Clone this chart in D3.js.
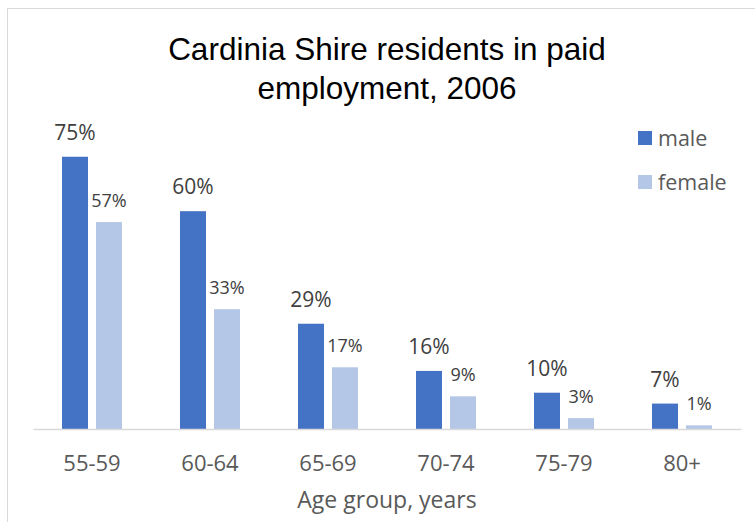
<!DOCTYPE html>
<html>
<head>
<meta charset="utf-8">
<script src="https://cdn.jsdelivr.net/npm/d3@7"></script>
<style>
  body { margin: 0; background: #fff; }
  text { font-family: "Open Sans", sans-serif; }
</style>
</head>
<body>
<div class="chart"></div>
<script>
const ageGroups = ["55-59", "60-64", "65-69", "70-74", "75-79", "80+"];
const male = [75, 60, 29, 16, 10, 7];
const female = [57, 33, 17, 9, 3, 1];
const seriesNames = ["male", "female"];
const seriesColors = ["#4472C4", "#B4C7E7"];

const width = 755, height = 522;
const baseY = 429;

const svg = d3.select(".chart")
              .append("svg")
              .attr("width", width)
              .attr("height", height);

// chart frame
svg.append("rect")
   .attr("x", 7.5).attr("y", 8.5)
   .attr("width", 800).attr("height", 600)
   .attr("fill", "#fff")
   .attr("stroke", "#d9d9d9");

const x = d3.scaleBand()
            .domain(ageGroups)
            .range([33, 741]);

const xInner = d3.scaleBand()
                 .domain(seriesNames)
                 .range([29, 89])
                 .paddingInner(8 / 34);

const y = d3.scaleLinear()
            .domain([0, 100])
            .range([baseY, 66]);

const color = d3.scaleOrdinal().domain(seriesNames).range(seriesColors);

const rows = ageGroups.map((g, i) => ({group: g, male: male[i], female: female[i]}));

const groups = svg.selectAll(".grp")
                  .data(rows)
                  .enter()
                  .append("g")
                  .attr("class", "grp")
                  .attr("transform", d => `translate(${x(d.group)},0)`);

groups.selectAll("rect")
      .data(d => seriesNames.map(s => ({key: s, value: d[s]})))
      .enter()
      .append("rect")
      .attr("x", d => xInner(d.key))
      .attr("width", xInner.bandwidth())
      .attr("y", d => y(d.value))
      .attr("height", d => baseY - y(d.value))
      .attr("fill", d => color(d.key));

groups.selectAll(".lbl")
      .data(d => seriesNames.map(s => ({key: s, value: d[s]})))
      .enter()
      .append("text")
      .attr("class", "lbl")
      .attr("x", d => xInner(d.key) + xInner.bandwidth() / 2)
      .attr("y", d => y(d.value) - (d.key === "male" ? 17 : 15))
      .attr("text-anchor", "middle")
      .attr("font-size", d => d.key === "male" ? 21 : 18)
      .attr("fill", "#404040")
      .text(d => d.value + "%");

// x axis
const xAxis = d3.axisBottom(x).tickSize(0).tickPadding(26);
const gx = svg.append("g")
              .attr("transform", `translate(0,${baseY})`)
              .call(xAxis);
gx.select(".domain").attr("stroke", "#d9d9d9").attr("stroke-width", 1.5);
gx.selectAll("text")
  .attr("font-family", "Open Sans, sans-serif")
  .attr("font-size", 22)
  .attr("fill", "#595959");

svg.append("text")
   .attr("x", 387)
   .attr("y", 508)
   .attr("text-anchor", "middle")
   .attr("font-size", 23)
   .attr("fill", "#595959")
   .text("Age group, years");

// title
const title = svg.append("text")
                 .attr("text-anchor", "middle")
                 .attr("font-size", 31.5)
                 .attr("fill", "#000")
                 .style("font-family", "'Liberation Sans', Arial, sans-serif");
title.append("tspan").attr("x", 387).attr("y", 60).text("Cardinia Shire residents in paid");
title.append("tspan").attr("x", 387).attr("y", 99).text("employment, 2006");

// legend
const legend = svg.selectAll(".leg")
                  .data(seriesNames)
                  .enter()
                  .append("g")
                  .attr("class", "leg")
                  .attr("transform", (d, i) => `translate(638,${131 + i * 44})`);
legend.append("rect")
      .attr("width", 14).attr("height", 14)
      .attr("fill", d => color(d));
legend.append("text")
      .attr("x", 20)
      .attr("y", 15)
      .attr("font-size", 21.5)
      .attr("fill", "#595959")
      .text(d => d);
</script>
</body>
</html>
